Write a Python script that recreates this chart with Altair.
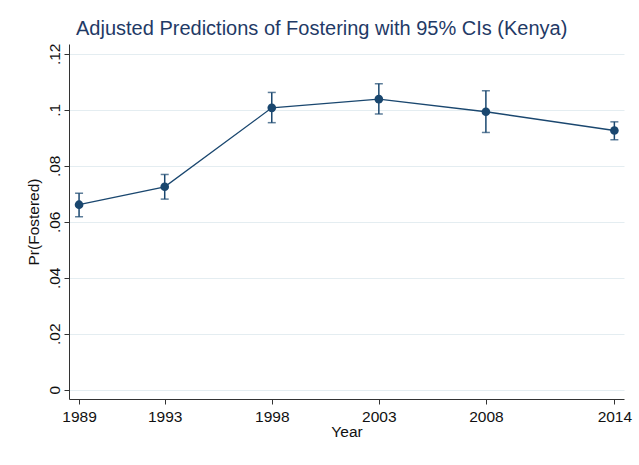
import altair as alt
import pandas as pd

# Survey years and adjusted predicted probabilities of fostering, with 95% CIs
years = [1989, 1993, 1998, 2003, 2008, 2014]
pred = [0.0661, 0.0725, 0.1007, 0.1038, 0.0993, 0.0926]
lower = [0.0618, 0.0681, 0.0954, 0.0985, 0.0919, 0.0893]
upper = [0.0702, 0.0769, 0.1062, 0.1093, 0.1068, 0.0957]

df = pd.DataFrame({"year": years, "pred": pred, "lower": lower, "upper": upper})

NAVY = "#1a476f"
FONT = "Liberation Sans"

x_enc = alt.X(
    "year:Q",
    scale=alt.Scale(domain=[1988.53, 2014.45], nice=False, zero=False),
    axis=alt.Axis(
        title="Year",
        values=years,
        format="d",
        grid=False,
        labelFontSize=15.5,
        titleFontSize=15.5,
        labelPadding=5,
        titlePadding=0,
    ),
)

y_scale = alt.Scale(domain=[-0.0033, 0.1235], nice=False, zero=False)
y_axis = alt.Axis(
    title="Pr(Fostered)",
    values=[0, 0.02, 0.04, 0.06, 0.08, 0.10, 0.12],
    labelExpr="datum.value == 0 ? '0' : replace(format(datum.value, '.2~f'), '0.', '.')",
    labelAngle=270,
    labelAlign="center",
    labelBaseline="bottom",
    labelFontSize=15.5,
    titleFontSize=15.5,
    labelPadding=2,
    titlePadding=6,
    grid=True,
)

base = alt.Chart(df)

line = base.mark_line(color=NAVY, strokeWidth=1.3).encode(
    x=x_enc, y=alt.Y("pred:Q", scale=y_scale, axis=y_axis)
)

bars = base.mark_rule(color=NAVY, strokeWidth=1.5).encode(
    x="year:Q", y=alt.Y("lower:Q", scale=y_scale), y2="upper:Q"
)

cap_lo = base.mark_tick(color=NAVY, orient="horizontal", size=8, thickness=1.5).encode(
    x="year:Q", y=alt.Y("lower:Q", scale=y_scale)
)
cap_hi = base.mark_tick(color=NAVY, orient="horizontal", size=8, thickness=1.5).encode(
    x="year:Q", y=alt.Y("upper:Q", scale=y_scale)
)

points = base.mark_point(filled=True, color=NAVY, opacity=1, size=75).encode(
    x="year:Q", y=alt.Y("pred:Q", scale=y_scale)
)

chart = (
    alt.layer(line, bars, cap_lo, cap_hi, points)
    .properties(
        width=555,
        height=355,
        title=alt.TitleParams(
            "Adjusted Predictions of Fostering with 95% CIs (Kenya)",
            anchor="start",
            frame="group",
            dx=7,
            dy=19,
            offset=7,
            baseline="alphabetic",
            fontSize=20,
            fontWeight="normal",
            font=FONT,
            color="#1f3a66",
        ),
        autosize=alt.AutoSizeParams(type="none"),
        padding={"left": 69, "top": 44, "right": 15, "bottom": 66},
    )
    .configure(background="white", font=FONT)
    .configure_view(stroke=None)
    .configure_axis(
        domainColor="#333333",
        domainWidth=1,
        tickColor="#333333",
        tickSize=5,
        tickWidth=1,
        labelColor="#111111",
        titleColor="#111111",
        labelFont=FONT,
        titleFont=FONT,
        titleFontWeight="normal",
        gridColor="#e4edf1",
        gridWidth=1,
    )
)

chart.save("out.html", embed_options={"renderer": "svg", "actions": False})
